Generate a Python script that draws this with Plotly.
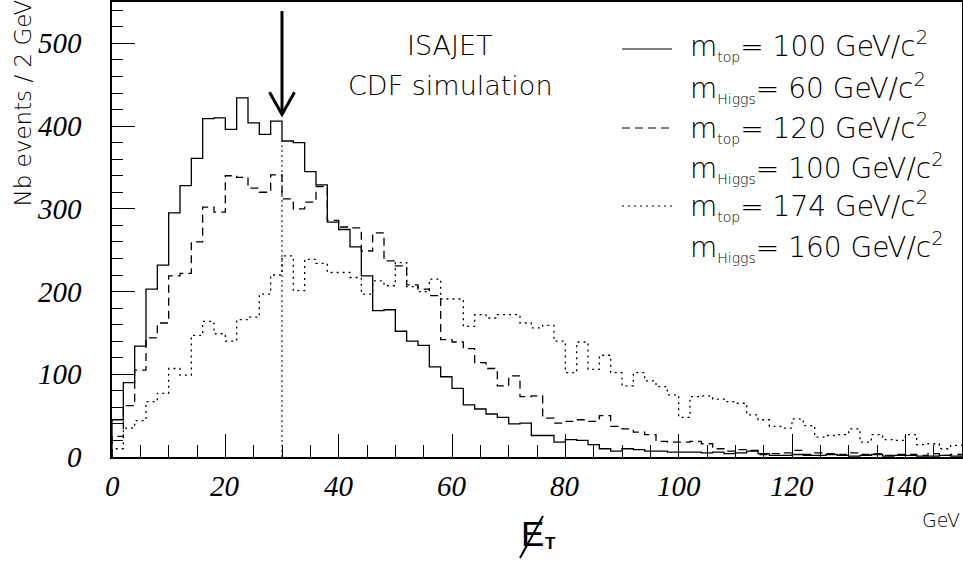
import numpy as np
import plotly.graph_objects as go

# Missing transverse energy, 2 GeV bins from 0 to 150 GeV
bin_width = 2
bin_edges = np.arange(0, 150 + bin_width, bin_width)

# m_top = 100, m_Higgs = 60 GeV/c^2
counts_100_60 = [
    45, 90, 134, 203, 232, 295, 328, 361, 409, 410,
    396, 434, 404, 390, 406, 382, 380, 345, 329, 284,
    275, 254, 219, 177, 178, 152, 140, 135, 109, 97,
    83, 63, 58, 52, 48, 40, 41, 26, 26, 18,
    21, 20, 15, 10, 7, 10, 9, 7, 7, 6,
    6, 6, 5, 6, 4, 5, 7, 4, 2, 2,
    3, 2, 2, 3, 2, 1, 2, 3, 1, 2,
    2, 1, 1, 2, 1,
]
# m_top = 120, m_Higgs = 100 GeV/c^2
counts_120_100 = [
    25, 62, 105, 144, 162, 219, 222, 260, 302, 296,
    340, 338, 325, 320, 341, 312, 300, 308, 327, 286,
    278, 277, 249, 271, 237, 231, 208, 203, 195, 142,
    139, 131, 114, 107, 86, 98, 73, 74, 47, 41,
    43, 45, 43, 50, 37, 34, 30, 27, 19, 18,
    18, 19, 16, 10, 7, 9, 8, 3, 4, 5,
    8, 3, 5, 4, 3, 5, 3, 4, 2, 3,
    3, 2, 4, 2, 3,
]
# m_top = 174, m_Higgs = 160 GeV/c^2
counts_174_160 = [
    10, 35, 44, 67, 77, 107, 99, 147, 164, 149,
    140, 166, 169, 197, 220, 243, 201, 239, 234, 223,
    223, 217, 197, 213, 207, 235, 206, 200, 215, 191,
    191, 158, 172, 168, 172, 172, 162, 156, 159, 140,
    102, 139, 106, 123, 102, 86, 102, 92, 85, 75,
    48, 73, 74, 70, 67, 65, 51, 45, 37, 35,
    46, 38, 24, 26, 27, 34, 18, 27, 21, 20,
    27, 15, 16, 10, 14,
]

SUB = '<sub><span style="font-size:14px">{}</span></sub>'
legend_labels = [
    "m" + SUB.format("top") + "= 100 GeV/c<sup>2</sup>",
    "m" + SUB.format("Higgs") + "= 60 GeV/c<sup>2</sup>",
    "m" + SUB.format("top") + "= 120 GeV/c<sup>2</sup>",
    "m" + SUB.format("Higgs") + "= 100 GeV/c<sup>2</sup>",
    "m" + SUB.format("top") + "= 174 GeV/c<sup>2</sup>",
    "m" + SUB.format("Higgs") + "= 160 GeV/c<sup>2</sup>",
]

x_ticks = [0, 20, 40, 60, 80, 100, 120, 140]
y_ticks = [0, 100, 200, 300, 400, 500]
cut_value = 30  # MET cut marked by the arrow

W, H = 963, 561
ML, MR, MT, MB = 112, 1, 2, 104
PW, PH = W - ML - MR, H - MT - MB


def px(xp):
    return (xp - ML) / PW


def py(yp):
    return (H - MB - yp) / PH


SANS = "DejaVu Sans"
SERIF = "Times New Roman, Liberation Serif, Times, serif"
PLAIN_SANS = "Arial, Liberation Sans, Helvetica, sans-serif"

series = [
    (counts_100_60, "solid"),
    (counts_120_100, "8px,5px"),
    (counts_174_160, "2px,4px"),
]

fig = go.Figure()
for counts, dash in series:
    xs = [0] + list(bin_edges)
    ys = [0] + list(counts) + [counts[-1]]
    fig.add_trace(go.Scatter(
        x=xs, y=ys, mode="lines", line_shape="hv",
        line=dict(color="black", width=1.3, dash=dash),
        showlegend=False, hoverinfo="skip",
    ))

# dotted marker of the cut from the axis up to the histogram
cut_bin = int(cut_value // bin_width)
fig.add_trace(go.Scatter(
    x=[cut_value, cut_value], y=[0, counts_100_60[cut_bin]], mode="lines",
    line=dict(color="black", width=1, dash="2px,3px"),
    showlegend=False, hoverinfo="skip",
))

shapes = []
# arrow pointing at the cut
shapes.append(dict(type="line", xref="x", yref="y", x0=cut_value, x1=cut_value,
                   y0=414, y1=539, line=dict(color="black", width=3)))
shapes.append(dict(type="path", xref="x", yref="y",
                   path=f"M {cut_value - 2.2},441 L {cut_value},414 L {cut_value + 2.2},441",
                   line=dict(color="black", width=3)))

# legend line samples
for yline, dash in [(49, "solid"), (128, "8px,5px"), (206, "2px,4px")]:
    shapes.append(dict(type="line", xref="paper", yref="paper",
                       x0=px(622), x1=px(672), y0=py(yline), y1=py(yline),
                       line=dict(color="black", width=1, dash=dash)))

# slash through the E of the axis symbol
shapes.append(dict(type="line", xref="paper", yref="paper",
                   x0=px(520), y0=py(558), x1=px(543), y1=py(516),
                   line=dict(color="black", width=2)))

annotations = []
# tick labels, italic serif, placed on the axis scales
for v in y_ticks:
    annotations.append(dict(
        text=f"<i>{v}</i>", xref="paper", yref="y", x=px(84), y=v,
        xanchor="right", yanchor="middle", showarrow=False,
        font=dict(family=SERIF, size=29, color="black", style="italic")))
for v in x_ticks:
    annotations.append(dict(
        text=f"<i>{v}</i>", xref="x", yref="paper", x=v, y=py(486),
        xanchor="center", yanchor="middle", showarrow=False,
        font=dict(family=SERIF, size=29, color="black", style="italic")))

for i, lab in enumerate(legend_labels):
    ycen = [46, 87, 127, 167, 206, 246][i]
    annotations.append(dict(
        text=lab, xref="paper", yref="paper", x=px(688), y=py(ycen),
        xanchor="left", yanchor="middle", showarrow=False,
        font=dict(family=SANS, size=28, color="black", weight=200)))

annotations += [
    dict(text="ISAJET", xref="paper", yref="paper", x=px(450), y=py(45),
         xanchor="center", yanchor="middle", showarrow=False,
         font=dict(family=SANS, size=27, color="black", weight=200)),
    dict(text="CDF simulation", xref="paper", yref="paper", x=px(450), y=py(85),
         xanchor="center", yanchor="middle", showarrow=False,
         font=dict(family=SANS, size=27, color="black", weight=200)),
    dict(text="Nb events / 2 GeV", xref="paper", yref="paper", x=px(22), y=py(-2),
         xanchor="center", yanchor="top", textangle=-90, showarrow=False,
         font=dict(family=SANS, size=23, color="black", weight=200)),
    dict(text="GeV", xref="paper", yref="paper", x=px(962), y=py(520),
         xanchor="right", yanchor="middle", showarrow=False,
         font=dict(family=SANS, size=19, color="black", weight=200)),
    dict(text="E", xref="paper", yref="paper", x=px(519), y=py(533),
         xanchor="left", yanchor="middle", showarrow=False,
         font=dict(family=PLAIN_SANS, size=35, color="black")),
    dict(text="<b>T</b>", xref="paper", yref="paper", x=px(550), y=py(543),
         xanchor="center", yanchor="middle", showarrow=False,
         font=dict(family=PLAIN_SANS, size=17, color="black")),
]

axis_common = dict(
    showline=True, linecolor="black", linewidth=1.5, mirror=True,
    ticks="inside", tickcolor="black", tickwidth=1, ticklen=23,
    showgrid=False, zeroline=False, showticklabels=False,
)

fig.update_layout(
    template="none",
    width=W, height=H,
    margin=dict(l=ML, r=MR, t=MT, b=MB),
    paper_bgcolor="white", plot_bgcolor="white",
    xaxis=dict(range=[0, 150], tickvals=x_ticks,
               minor=dict(dtick=5, ticks="inside", ticklen=12, tickcolor="black", tickwidth=1),
               **axis_common),
    yaxis=dict(range=[0, 550], tickvals=y_ticks,
               minor=dict(dtick=20, ticks="inside", ticklen=11, tickcolor="black", tickwidth=1),
               **axis_common),
    shapes=shapes,
    annotations=annotations,
)

fig.write_html("out.html")
